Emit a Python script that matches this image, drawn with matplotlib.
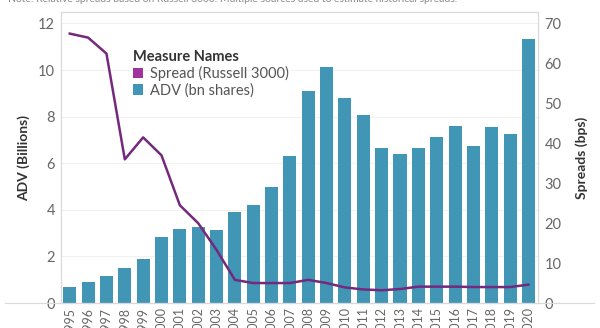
import matplotlib
matplotlib.use("Agg")
import matplotlib.pyplot as plt
from matplotlib.lines import Line2D
from matplotlib.patches import Patch
import numpy as np

plt.rcParams['font.family'] = ['Lato', 'DejaVu Sans']

years = [str(y) for y in range(1995, 2021)]
adv_bn = [0.67, 0.9, 1.15, 1.5, 1.9, 2.85, 3.17, 3.27, 3.13, 3.9, 4.2, 4.97,
          6.32, 9.11, 10.14, 8.78, 8.08, 6.65, 6.38, 6.64, 7.11, 7.6, 6.74,
          7.57, 7.25, 11.32]
spread_bps = [67.5, 66.5, 62.5, 36.0, 41.5, 37.0, 24.5, 20.0, 13.3, 5.8, 5.0,
              5.0, 5.0, 5.8, 5.0, 3.9, 3.4, 3.2, 3.5, 4.1, 4.1, 4.1, 4.0,
              4.0, 4.0, 4.6]
left_ticks = [0, 2, 4, 6, 8, 10, 12]
right_ticks = [0, 10, 20, 30, 40, 50, 60, 70]

bar_color = '#4196b6'
line_color = '#74297c'
legend_line_color = '#a1349c'
tick_color = '#666666'
axis_line = '#d9d9d9'

fig = plt.figure(figsize=(6.0, 3.28), dpi=100)
ax = fig.add_axes([0.101, 0.0762, 0.795, 0.887])
ax2 = ax.twinx()

x = np.arange(len(years))
ax.bar(x, adv_bn, width=0.71, color=bar_color, zorder=2)
ax2.plot(x, spread_bps, color=line_color, lw=1.8, zorder=3)

ax.set_xlim(-0.5, len(years) - 0.5)
ax.set_ylim(0, 12.49)
ax2.set_ylim(0, 72.9)

ax.set_yticks(left_ticks)
ax2.set_yticks(right_ticks)
ax.set_xticks(x)
ax.set_xticklabels(years, rotation=90, fontsize=9, color=tick_color)

ax.tick_params(axis='y', length=0, labelsize=10.5, labelcolor=tick_color, pad=4)
ax2.tick_params(axis='y', length=0, labelsize=10.5, labelcolor=tick_color, pad=5)
ax.tick_params(axis='x', length=0, pad=3)

ax.grid(axis='y', color='#f1f1f1', lw=0.8, zorder=0)
ax.set_axisbelow(True)

for a in (ax, ax2):
    for s in a.spines.values():
        s.set_color(axis_line)
        s.set_linewidth(0.8)

ax.set_ylabel('ADV (Billions)', fontsize=10, fontweight='bold', color='#333333', labelpad=6)
ax2.set_ylabel('Spreads (bps)', fontsize=10, fontweight='bold', color='#333333', labelpad=10)

# baseline rule running the full width under the plot
fig.add_artist(Line2D([0.008, 0.99], [0.0762, 0.0762], transform=fig.transFigure,
                      color=axis_line, lw=0.8))

# legend
handles = [Patch(facecolor=legend_line_color, edgecolor='none', label='Spread (Russell 3000)'),
           Patch(facecolor=bar_color, edgecolor='none', label='ADV (bn shares)')]
leg = ax.legend(handles=handles, title='Measure Names', loc='upper left',
                bbox_to_anchor=(0.13, 0.905), frameon=False, fontsize=10.5,
                title_fontproperties={'size': 10.5, 'weight': 'bold'},
                handlelength=0.7, handleheight=0.7, handletextpad=0.5,
                labelspacing=0.15, borderpad=0.2)
leg._legend_box.align = 'left'
for t in leg.get_texts():
    t.set_color('#555555')
leg.get_title().set_color('#333333')

fig.text(0.013, 1.0, 'Note: Relative spreads based on Russell 3000. Multiple sources used to estimate historical spreads.',
         fontsize=7.5, color='#888888', va='center', ha='left')

fig.savefig('out.png', dpi=100)
